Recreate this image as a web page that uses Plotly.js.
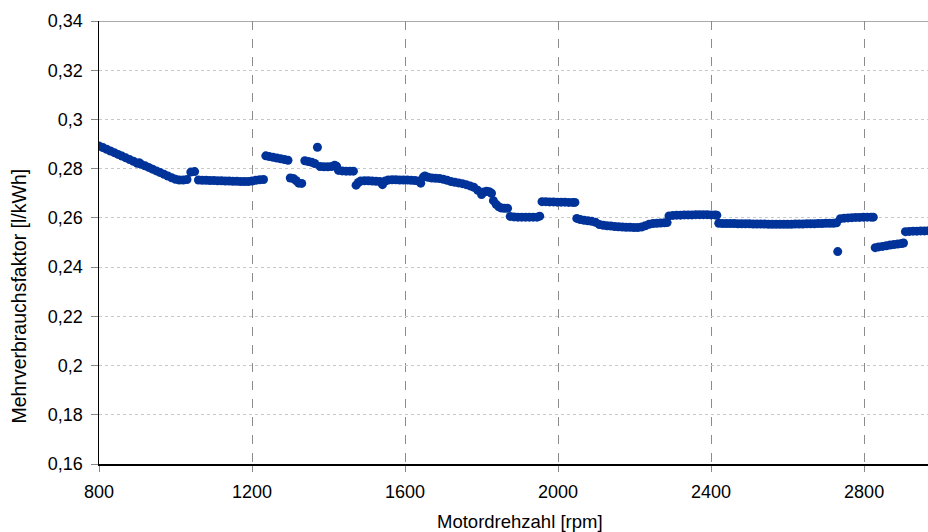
<!DOCTYPE html>
<html>
<head>
<meta charset="utf-8">
<script src="https://cdn.plot.ly/plotly-3.0.1.min.js"></script>
<style>html,body{margin:0;padding:0;background:#fff;}#chart{width:928px;height:532px;}</style>
</head>
<body>
<div id="chart"></div>
<script>
const rpm = [
  800, 810, 820, 830, 840, 850, 860, 870, 880, 890, 900, 905, 910, 920, 930, 940, 950, 960, 970, 980, 990, 1000,
  1010, 1020, 1030, 1040, 1050,
  1060, 1070, 1080, 1090, 1100, 1110, 1120, 1130, 1140, 1150, 1160, 1170, 1180, 1190, 1200, 1210, 1220, 1230,
  1236, 1245, 1255, 1265, 1275, 1285, 1294,
  1300, 1308, 1315, 1322, 1330,
  1338, 1347, 1356, 1364,
  1371,
  1378, 1388, 1398, 1408, 1416, 1421,
  1426, 1436, 1446, 1456, 1465,
  1472, 1478, 1484, 1494, 1504, 1514, 1524, 1534, 1541, 1548, 1556, 1566, 1576, 1586, 1596, 1606, 1616, 1626, 1636, 1641,
  1648, 1652, 1660, 1670, 1680, 1690, 1700, 1710, 1720, 1730, 1740, 1750, 1760, 1770, 1780, 1790, 1800, 1806, 1813, 1820, 1826,
  1831, 1838, 1845, 1852, 1860, 1868,
  1875, 1885, 1895, 1905, 1915, 1925, 1935, 1945, 1952,
  1958, 1968, 1978, 1988, 1998, 2008, 2018, 2028, 2038, 2044,
  2049, 2058, 2068, 2078, 2088, 2098, 2108, 2118, 2128, 2138, 2148, 2158, 2168, 2178, 2188, 2198, 2208, 2218, 2228, 2238, 2248, 2258, 2268, 2278, 2285,
  2290, 2300, 2310, 2320, 2330, 2340, 2350, 2360, 2370, 2380, 2390, 2400, 2410, 2415,
  2420, 2430, 2440, 2450, 2460, 2470, 2480, 2490, 2500, 2510, 2520, 2530, 2540, 2550, 2560, 2570, 2580, 2590, 2600, 2610, 2620, 2630, 2640, 2650, 2660, 2670, 2680, 2690, 2700, 2710, 2720, 2728,
  2731,
  2738, 2748, 2758, 2768, 2778, 2788, 2798, 2808, 2818, 2824,
  2829, 2838, 2848, 2858, 2868, 2878, 2888, 2898, 2903,
  2908, 2918, 2928, 2938, 2948, 2958, 2968, 2978
];
const factor = [
  0.2892, 0.2886, 0.2879, 0.2872, 0.2865, 0.2858, 0.2851, 0.2844, 0.2837, 0.2830, 0.2822, 0.2824, 0.2818, 0.2812, 0.2805, 0.2798, 0.2791, 0.2784, 0.2777, 0.2770, 0.2763, 0.2757,
  0.2754, 0.2754, 0.2756, 0.2786, 0.2788,
  0.2754, 0.2753, 0.2753, 0.2752, 0.2752, 0.2751, 0.2751, 0.2750, 0.2750, 0.2749, 0.2749, 0.2748, 0.2748, 0.2748, 0.2750, 0.2753, 0.2755, 0.2756,
  0.2852, 0.2849, 0.2846, 0.2843, 0.2840, 0.2837, 0.2834,
  0.2762, 0.2760, 0.2752, 0.2741, 0.2740,
  0.2832, 0.2829, 0.2826, 0.2821,
  0.2887,
  0.2809, 0.2808, 0.2808, 0.2809, 0.2814, 0.2810,
  0.2793, 0.2791, 0.2790, 0.2790, 0.2790,
  0.2733, 0.2744, 0.2750, 0.2751, 0.2751, 0.2750, 0.2749, 0.2748, 0.2735, 0.2750, 0.2754, 0.2755, 0.2755, 0.2754, 0.2754, 0.2754, 0.2753, 0.2752, 0.2750, 0.2741,
  0.2766, 0.2770, 0.2765, 0.2762, 0.2761, 0.2760, 0.2757, 0.2753, 0.2748, 0.2745, 0.2742, 0.2739, 0.2735, 0.2730, 0.2724, 0.2712, 0.2695, 0.2705, 0.2708, 0.2706, 0.2700,
  0.2670, 0.2655, 0.2645, 0.2640, 0.2639, 0.2639,
  0.2606, 0.2604, 0.2603, 0.2603, 0.2603, 0.2603, 0.2603, 0.2603, 0.2607,
  0.2666, 0.2666, 0.2665, 0.2665, 0.2664, 0.2664, 0.2664, 0.2663, 0.2663, 0.2663,
  0.2598, 0.2593, 0.2590, 0.2588, 0.2586, 0.2582, 0.2573, 0.2570, 0.2568, 0.2567, 0.2565, 0.2564, 0.2563, 0.2562, 0.2562, 0.2561, 0.2561, 0.2563, 0.2568, 0.2574, 0.2577, 0.2578, 0.2579, 0.2580, 0.2581,
  0.2608, 0.2610, 0.2611, 0.2611, 0.2612, 0.2612, 0.2612, 0.2613, 0.2613, 0.2613, 0.2613, 0.2612, 0.2612, 0.2611,
  0.2578, 0.2577, 0.2577, 0.2577, 0.2577, 0.2576, 0.2576, 0.2576, 0.2576, 0.2575, 0.2575, 0.2575, 0.2575, 0.2574, 0.2574, 0.2574, 0.2574, 0.2574, 0.2574, 0.2574, 0.2575, 0.2575, 0.2575, 0.2576, 0.2576, 0.2576, 0.2577, 0.2577, 0.2578, 0.2578, 0.2578, 0.2580,
  0.2463,
  0.2597, 0.2599, 0.2600, 0.2601, 0.2602, 0.2602, 0.2603, 0.2603, 0.2603, 0.2603,
  0.2479, 0.2482, 0.2484, 0.2487, 0.2490, 0.2492, 0.2494, 0.2496, 0.2498,
  0.2544, 0.2545, 0.2546, 0.2546, 0.2547, 0.2547, 0.2548, 0.2548
];
const xTickVals = [800, 1200, 1600, 2000, 2400, 2800];
const xTickText = ['800', '1200', '1600', '2000', '2400', '2800'];
const yTickVals = [0.16, 0.18, 0.20, 0.22, 0.24, 0.26, 0.28, 0.30, 0.32, 0.34];
const yTickText = ['0,16', '0,18', '0,2', '0,22', '0,24', '0,26', '0,28', '0,3', '0,32', '0,34'];
const xTitle = 'Motordrehzahl [rpm]';
const yTitle = 'Mehrverbrauchsfaktor [l/kWh]';

const font = {family: '"Liberation Sans", Arial, sans-serif', size: 18, color: '#000'};

Plotly.newPlot('chart', [{
  x: rpm, y: factor, type: 'scatter', mode: 'markers',
  marker: {color: '#003399', size: 9},
  cliponaxis: true, showlegend: false, hoverinfo: 'skip'
}], {
  width: 928, height: 532,
  margin: {l: 99, r: 0, t: 21, b: 68},
  paper_bgcolor: '#fff', plot_bgcolor: '#fff',
  font: font,
  xaxis: {
    range: [800, 2967], tickvals: xTickVals, ticktext: xTickText,
    showline: true, linecolor: '#000', linewidth: 1.5,
    ticks: 'outside', ticklen: 6, tickcolor: '#888', tickwidth: 1,
    showgrid: true, gridcolor: '#8c8c8c', griddash: 'dash', gridwidth: 1,
    zeroline: false, automargin: false, ticklabelstandoff: 5,
    tickfont: font
  },
  yaxis: {
    range: [0.16, 0.34], tickvals: yTickVals, ticktext: yTickText,
    showline: true, linecolor: '#000', linewidth: 1.5,
    ticks: 'outside', ticklen: 7, tickcolor: '#888', tickwidth: 1,
    showgrid: true, gridcolor: '#c8c8c8', griddash: 'dot', gridwidth: 1,
    zeroline: false, automargin: false, ticklabelstandoff: 4,
    tickfont: font
  },
  annotations: [{
    text: yTitle, textangle: -90, showarrow: false,
    xref: 'paper', yref: 'paper',
    x: (18.5 - 99) / 829, y: (464 - 296) / 443,
    xanchor: 'center', yanchor: 'middle',
    font: {family: font.family, size: 19.5, color: '#000'}
  }, {
    text: xTitle, showarrow: false,
    xref: 'paper', yref: 'paper',
    x: (519.5 - 99) / 829, y: (464 - 521) / 443,
    xanchor: 'center', yanchor: 'middle',
    font: {family: font.family, size: 18.5, color: '#000'}
  }],
  shapes: [{type: 'line', xref: 'paper', yref: 'y', x0: 0, x1: 1, y0: 0.34, y1: 0.34,
            line: {color: '#8c8c8c', width: 1.5}}]
}, {staticPlot: true});
</script>
</body>
</html>
